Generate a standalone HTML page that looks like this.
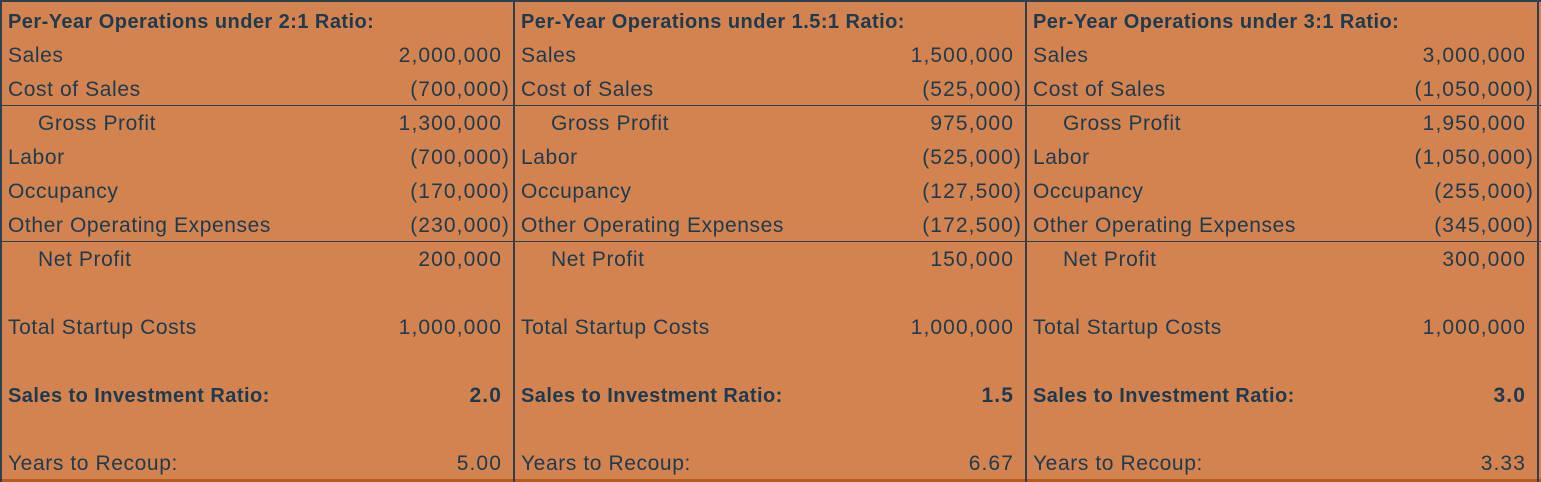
<!DOCTYPE html>
<html><head><style>
body{margin:0;width:1541px;height:482px;background:#D2834F;overflow:hidden;font-family:"Liberation Sans",sans-serif;color:#1E3A4E;}
.wrap{position:absolute;left:0;top:0;width:1541px;height:482px;}
.col{position:absolute;top:1px;height:478px;}
.row{position:absolute;left:0;right:0;height:34px;line-height:34px;font-size:21px;}
.l{position:absolute;left:6px;white-space:nowrap;letter-spacing:0.6px;}
.r{position:absolute;right:11px;white-space:nowrap;letter-spacing:1.1px;}
.r.p{right:3px;}
.b{font-weight:bold;}
.b .l{font-size:20px;letter-spacing:0.45px;}
.b .r{font-size:21px;}
.ind{left:36px;}
.hl{position:absolute;left:0;right:0;height:1px;background:#2E3F4E;}
.vl{position:absolute;top:0;width:2px;height:482px;background:#2E3F4E;}
</style></head><body><div class="wrap">
<div style="position:absolute;left:0;top:0;width:1541px;height:2px;background:#2E3F4E"></div>
<div style="position:absolute;left:0;top:479px;width:1541px;height:3px;background:#B85A22"></div>
<div class="vl" style="left:0"></div>
<div class="vl" style="left:513px"></div>
<div class="vl" style="left:1025px"></div>
<div class="vl" style="left:1537px;background:#2E3F4E"></div>
<div class="hl" style="top:105px"></div>
<div class="hl" style="top:241px"></div>

<div class="col" style="left:2px;width:511px">
<div class="row b" style="top:4px"><span class="l">Per-Year Operations under 2:1 Ratio:</span></div>
<div class="row" style="top:38px"><span class="l">Sales</span><span class="r">2,000,000</span></div>
<div class="row" style="top:72px"><span class="l">Cost of Sales</span><span class="r p">(700,000)</span></div>
<div class="row" style="top:106px"><span class="l ind">Gross Profit</span><span class="r">1,300,000</span></div>
<div class="row" style="top:140px"><span class="l">Labor</span><span class="r p">(700,000)</span></div>
<div class="row" style="top:174px"><span class="l">Occupancy</span><span class="r p">(170,000)</span></div>
<div class="row" style="top:208px"><span class="l">Other Operating Expenses</span><span class="r p">(230,000)</span></div>
<div class="row" style="top:242px"><span class="l ind">Net Profit</span><span class="r">200,000</span></div>
<div class="row" style="top:310px"><span class="l">Total Startup Costs</span><span class="r">1,000,000</span></div>
<div class="row b" style="top:378px"><span class="l">Sales to Investment Ratio:</span><span class="r">2.0</span></div>
<div class="row" style="top:446px"><span class="l">Years to Recoup:</span><span class="r">5.00</span></div>
</div>

<div class="col" style="left:515px;width:510px">
<div class="row b" style="top:4px"><span class="l">Per-Year Operations under 1.5:1 Ratio:</span></div>
<div class="row" style="top:38px"><span class="l">Sales</span><span class="r">1,500,000</span></div>
<div class="row" style="top:72px"><span class="l">Cost of Sales</span><span class="r p">(525,000)</span></div>
<div class="row" style="top:106px"><span class="l ind">Gross Profit</span><span class="r">975,000</span></div>
<div class="row" style="top:140px"><span class="l">Labor</span><span class="r p">(525,000)</span></div>
<div class="row" style="top:174px"><span class="l">Occupancy</span><span class="r p">(127,500)</span></div>
<div class="row" style="top:208px"><span class="l">Other Operating Expenses</span><span class="r p">(172,500)</span></div>
<div class="row" style="top:242px"><span class="l ind">Net Profit</span><span class="r">150,000</span></div>
<div class="row" style="top:310px"><span class="l">Total Startup Costs</span><span class="r">1,000,000</span></div>
<div class="row b" style="top:378px"><span class="l">Sales to Investment Ratio:</span><span class="r">1.5</span></div>
<div class="row" style="top:446px"><span class="l">Years to Recoup:</span><span class="r">6.67</span></div>
</div>

<div class="col" style="left:1027px;width:510px">
<div class="row b" style="top:4px"><span class="l">Per-Year Operations under 3:1 Ratio:</span></div>
<div class="row" style="top:38px"><span class="l">Sales</span><span class="r">3,000,000</span></div>
<div class="row" style="top:72px"><span class="l">Cost of Sales</span><span class="r p">(1,050,000)</span></div>
<div class="row" style="top:106px"><span class="l ind">Gross Profit</span><span class="r">1,950,000</span></div>
<div class="row" style="top:140px"><span class="l">Labor</span><span class="r p">(1,050,000)</span></div>
<div class="row" style="top:174px"><span class="l">Occupancy</span><span class="r p">(255,000)</span></div>
<div class="row" style="top:208px"><span class="l">Other Operating Expenses</span><span class="r p">(345,000)</span></div>
<div class="row" style="top:242px"><span class="l ind">Net Profit</span><span class="r">300,000</span></div>
<div class="row" style="top:310px"><span class="l">Total Startup Costs</span><span class="r">1,000,000</span></div>
<div class="row b" style="top:378px"><span class="l">Sales to Investment Ratio:</span><span class="r">3.0</span></div>
<div class="row" style="top:446px"><span class="l">Years to Recoup:</span><span class="r">3.33</span></div>
</div>
</div></body></html>
